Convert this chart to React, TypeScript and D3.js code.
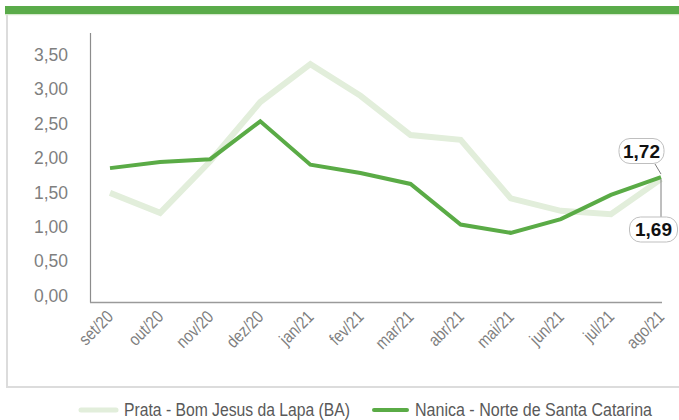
import React from "react";
import * as d3 from "d3";

const months = ["set/20","out/20","nov/20","dez/20","jan/21","fev/21","mar/21","abr/21","mai/21","jun/21","jul/21","ago/21"];
const prata = [1.49, 1.20, 1.95, 2.81, 3.36, 2.90, 2.33, 2.26, 1.41, 1.23, 1.18, 1.69];
const nanica = [1.85, 1.94, 1.98, 2.53, 1.90, 1.78, 1.62, 1.03, 0.91, 1.11, 1.46, 1.72];
const yTicks = [0, 0.5, 1, 1.5, 2, 2.5, 3, 3.5];
const seriesNames = ["Prata - Bom Jesus da Lapa (BA)", "Nanica - Norte de Santa Catarina"];

const DARK = "#5aab46";
const LIGHT = "#e2eedb";
const TEXT = "#7f7f7f";
const SANS = "'Liberation Sans', Arial, sans-serif";

export default function App() {
  const W = 679, H = 420;
  const x = d3.scalePoint<string>().domain(months).range([110, 661]);
  const y = d3.scaleLinear().domain([0, 3.5]).range([295.5, 54.5]);
  const fmt = (v: number) => v.toFixed(2).replace(".", ",");
  const line = d3.line<number>().x((_, i) => x(months[i])!).y(d => y(d));
  const axisY = 302.5;
  const lastX = x(months[months.length - 1])!;
  const nLast = nanica[nanica.length - 1];
  const pLast = prata[prata.length - 1];

  return (
    <svg width={W} height={H} style={{ position: "absolute", left: 0, top: 0, background: "#fff" }}>
      <rect x={0} y={0} width={W} height={H} fill="#fff" />
      {/* frame */}
      <rect x={7} y={14} width={W + 10} height={373} fill="none" stroke="#dcdcdc" strokeWidth={2} />
      <line x1={5} x2={W} y1={14.5} y2={14.5} stroke="#d6e9cd" strokeWidth={1.5} />
      <rect x={5} y={6} width={W - 5} height={8} fill="#5aab4a" />

      {/* axes */}
      <line x1={90.5} x2={90.5} y1={33} y2={axisY} stroke="#8c8c8c" strokeWidth={1.2} />
      <line x1={90} x2={662} y1={axisY} y2={axisY} stroke="#9a9a9a" strokeWidth={1.5} />

      {yTicks.map(t => (
        <text key={t} x={68} y={y(t)} dy="0.36em" textAnchor="end" fontFamily={SANS} fontSize={17.5} fill={TEXT}>
          {fmt(t)}
        </text>
      ))}

      {months.map(m => (
        <text key={m} transform={`translate(${x(m)!},${axisY + 11}) rotate(-45) scale(0.84,1)`} textAnchor="end"
          dy="0.35em" fontFamily={SANS} fontSize={17.5} fill={TEXT}>
          {m}
        </text>
      ))}

      <path d={line(prata) || ""} fill="none" stroke={LIGHT} strokeWidth={6} strokeLinejoin="miter" />
      <path d={line(nanica) || ""} fill="none" stroke={DARK} strokeWidth={4} strokeLinejoin="miter" />

      {/* data labels */}
      <line x1={655} y1={164} x2={lastX} y2={y(nLast) - 3} stroke="#7f7f7f" strokeWidth={1} />
      <line x1={lastX} y1={y(pLast)} x2={lastX} y2={217} stroke="#7f7f7f" strokeWidth={1} />
      <rect x={619} y={138.5} width={45} height={25} rx={11} fill="#fff" stroke="#bfbfbf" strokeWidth={1} />
      <text x={641.5} y={151} dy="0.36em" textAnchor="middle" fontFamily={SANS} fontWeight="bold" fontSize={19} fill="#111">
        {fmt(nLast)}
      </text>
      <rect x={629.5} y={217} width={48} height={25} rx={11} fill="#fff" stroke="#bfbfbf" strokeWidth={1} />
      <text x={653.5} y={229.5} dy="0.36em" textAnchor="middle" fontFamily={SANS} fontWeight="bold" fontSize={19} fill="#111">
        {fmt(pLast)}
      </text>

      {/* legend */}
      <line x1={81} x2={116} y1={410} y2={410} stroke={LIGHT} strokeWidth={5} strokeLinecap="round" />
      <text x={124} y={410} dy="0.36em" fontFamily={SANS} fontSize={17.5} fill="#595959"
        textLength={226} lengthAdjust="spacingAndGlyphs">{seriesNames[0]}</text>
      <line x1={374} x2={407} y1={410} y2={410} stroke={DARK} strokeWidth={4} strokeLinecap="round" />
      <text x={415} y={410} dy="0.36em" fontFamily={SANS} fontSize={17.5} fill="#595959"
        textLength={237} lengthAdjust="spacingAndGlyphs">{seriesNames[1]}</text>
    </svg>
  );
}
